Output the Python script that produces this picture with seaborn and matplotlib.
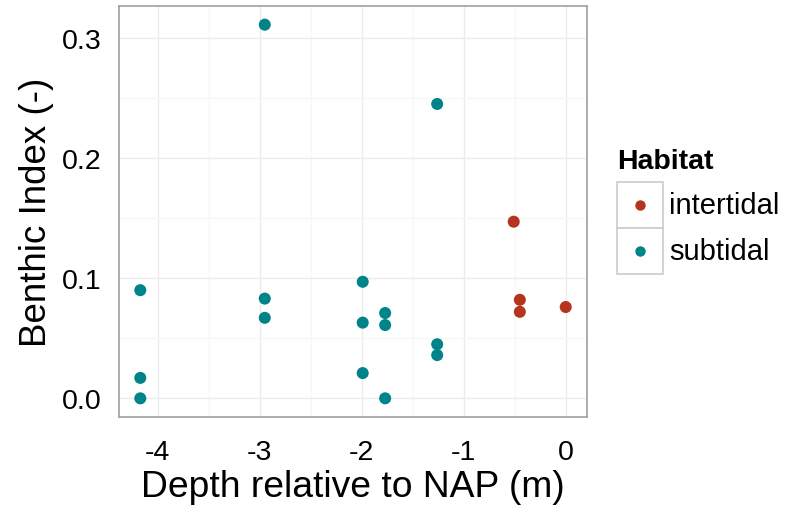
import pandas as pd
import matplotlib.pyplot as plt
import seaborn as sns
from matplotlib.lines import Line2D
from matplotlib.patches import Rectangle

# Depth (m relative to NAP) and benthic index
subtidal_depth = [-4.17, -4.17, -4.17, -2.95, -2.95, -2.95, -1.99, -1.99, -1.99,
                  -1.77, -1.77, -1.77, -1.26, -1.26, -1.26]
subtidal_index = [0.090, 0.017, 0.000, 0.311, 0.083, 0.067, 0.097, 0.063, 0.021,
                  0.071, 0.061, 0.000, 0.245, 0.045, 0.036]
intertidal_depth = [-0.51, -0.45, -0.45, 0.0]
intertidal_index = [0.147, 0.082, 0.072, 0.076]

habitats = ["intertidal", "subtidal"]
colors = {"intertidal": "#B5341E", "subtidal": "#008489"}

df = pd.DataFrame({
    "depth": intertidal_depth + subtidal_depth,
    "index": intertidal_index + subtidal_index,
    "Habitat": ["intertidal"] * len(intertidal_depth) + ["subtidal"] * len(subtidal_depth),
})

sns.set_style("white")
plt.rcParams["font.family"] = ["Liberation Sans", "DejaVu Sans"]
plt.rcParams["text.color"] = "black"
plt.rcParams["axes.labelcolor"] = "black"

fig = plt.figure(figsize=(7.94, 5.06), dpi=100)
ax = fig.add_axes([0.1499, 0.1739, 0.5894, 0.8123])

sns.scatterplot(data=df, x="depth", y="index", hue="Habitat", hue_order=habitats,
                palette=colors, s=75, linewidth=0, legend=False, ax=ax, zorder=3)

# ggplot-like limits (5% expansion)
xr = max(df["depth"]) - min(df["depth"])
yr = max(df["index"]) - min(df["index"])
ax.set_xlim(min(df["depth"]) - 0.05 * xr, max(df["depth"]) + 0.05 * xr)
ax.set_ylim(min(df["index"]) - 0.05 * yr, max(df["index"]) + 0.05 * yr)

ax.set_xticks([-4, -3, -2, -1, 0])
ax.set_xticklabels(["-4", "-3", "-2", "-1", "0"])
ax.set_yticks([0.0, 0.1, 0.2, 0.3])
ax.set_yticklabels(["0.0", "0.1", "0.2", "0.3"])
ax.set_xticks([-3.5, -2.5, -1.5, -0.5], minor=True)
ax.set_yticks([0.05, 0.15, 0.25], minor=True)
ax.grid(True, which="major", color="#EBEBEB", linewidth=1.0)
ax.grid(True, which="minor", color="#F7F7F7", linewidth=1.0)
ax.set_axisbelow(True)

ax.tick_params(which="major", length=8.5, width=1.4, color="#333333",
               labelsize=20.5, labelcolor="black")
ax.tick_params(axis="x", which="major", pad=7)
ax.tick_params(axis="y", which="major", pad=4)
ax.tick_params(which="minor", length=0)
for sp in ax.spines.values():
    sp.set_color("#A0A0A0")
    sp.set_linewidth(1.2)

ax.set_xlabel("Depth relative to NAP (m)", fontsize=26.8, labelpad=3)
ax.set_ylabel("Benthic Index (-)", fontsize=26.5, labelpad=6)

# legend, ggplot style with boxed keys
fig.text(617 / 794, 1 - 162 / 506, "Habitat", fontsize=20.5, fontweight="bold",
         va="center", ha="left")
key_top = 183
key_h = 46
for i, h in enumerate(habitats):
    y0 = key_top + i * key_h
    fig.add_artist(Rectangle((617 / 794, 1 - (y0 + key_h) / 506), 46 / 794, key_h / 506,
                             transform=fig.transFigure, facecolor="white",
                             edgecolor="#CCCCCC", linewidth=1.2))
    cy = 1 - (y0 + key_h / 2) / 506
    fig.add_artist(Line2D([640 / 794], [cy], marker="o", markersize=7.5,
                          color=colors[h], linestyle="none", markeredgewidth=0,
                          transform=fig.transFigure))
    fig.text(669 / 794, cy, h, fontsize=21, va="center", ha="left")

fig.savefig("out.png", dpi=100)
